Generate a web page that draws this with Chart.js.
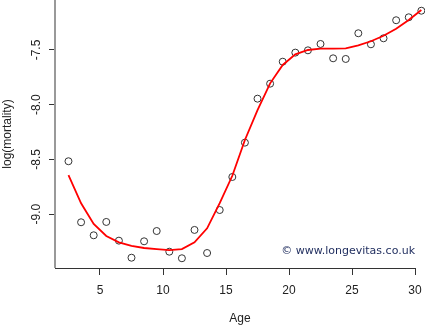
<!DOCTYPE html>
<html>
<head>
<meta charset="utf-8">
<script src="https://cdn.jsdelivr.net/npm/chart.js@4/dist/chart.umd.min.js"></script>
<style>
  html, body { margin: 0; padding: 0; background: #fff; }
  #wrap { width: 425px; height: 326px; }
</style>
</head>
<body>
<div id="wrap"><canvas id="chart" width="425" height="326"></canvas></div>
<script>
// Data
const ages = [2.5, 3.5, 4.5, 5.5, 6.5, 7.5, 8.5, 9.5, 10.5, 11.5, 12.5, 13.5, 14.5, 15.5,
  16.5, 17.5, 18.5, 19.5, 20.5, 21.5, 22.5, 23.5, 24.5, 25.5, 26.5, 27.5, 28.5, 29.5, 30.5];
const observed = [-8.517, -9.075, -9.194, -9.072, -9.243, -9.399, -9.249, -9.155, -9.344, -9.404,
  -9.145, -9.356, -8.963, -8.661, -8.347, -7.945, -7.808, -7.607, -7.524, -7.503, -7.445, -7.576,
  -7.582, -7.347, -7.448, -7.393, -7.228, -7.201, -7.141];
const fitted = [-8.643, -8.901, -9.09, -9.2, -9.258, -9.29, -9.31, -9.32, -9.33, -9.32,
  -9.258, -9.13, -8.9, -8.65, -8.323, -8.05, -7.805, -7.637, -7.54, -7.5, -7.488, -7.488,
  -7.485, -7.457, -7.42, -7.37, -7.305, -7.226, -7.134];
const xTicks = [5, 10, 15, 20, 25, 30];
const yTicks = [-9.0, -8.5, -8.0, -7.5];
const yTickLabels = ['-9.0', '-8.5', '-8.0', '-7.5'];

const ink = '#222';

// R-style axes: grey left box line, dark bottom line from left edge to last tick
const rAxes = {
  id: 'rAxes',
  afterDraw(chart) {
    const { ctx, chartArea, scales } = chart;
    const x = scales.x, y = scales.y;
    ctx.save();
    ctx.strokeStyle = '#999';
    ctx.lineWidth = 2;
    ctx.beginPath();
    ctx.moveTo(chartArea.left, chartArea.top);
    ctx.lineTo(chartArea.left, chartArea.bottom);
    ctx.stroke();

    ctx.strokeStyle = '#333';
    ctx.lineWidth = 1;
    ctx.beginPath();
    ctx.moveTo(chartArea.left, chartArea.bottom + 0.5);
    ctx.lineTo(x.getPixelForValue(30) + 0.5, chartArea.bottom + 0.5);
    ctx.stroke();

    // y tick labels, rotated like R
    ctx.fillStyle = ink;
    ctx.font = '12px "Liberation Sans", Arial, sans-serif';
    ctx.textAlign = 'center';
    ctx.textBaseline = 'middle';
    yTicks.forEach((v, i) => {
      ctx.save();
      ctx.translate(37, y.getPixelForValue(v));
      ctx.rotate(-Math.PI / 2);
      ctx.fillText(yTickLabels[i], 0, 0);
      ctx.restore();
    });

    // watermark
    ctx.fillStyle = '#1c2a5c';
    ctx.font = '11px "DejaVu Sans", sans-serif';
    ctx.textAlign = 'right';
    ctx.textBaseline = 'alphabetic';
    ctx.fillText('\u00a9 www.longevitas.co.uk', 415, 254);
    ctx.restore();
  }
};

new Chart(document.getElementById('chart').getContext('2d'), {
  type: 'scatter',
  data: {
    datasets: [
      {
        label: 'fitted',
        data: ages.map((a, i) => ({ x: a, y: fitted[i] })),
        showLine: true,
        borderColor: '#ff0000',
        borderWidth: 1.8,
        pointRadius: 0,
        fill: false,
        clip: false
      },
      {
        label: 'observed',
        data: ages.map((a, i) => ({ x: a, y: observed[i] })),
        showLine: false,
        pointStyle: 'circle',
        pointRadius: 3.5,
        borderColor: '#333',
        backgroundColor: 'transparent',
        borderWidth: 1,
        clip: false
      }
    ]
  },
  options: {
    responsive: false,
    animation: false,
    layout: { padding: 0, autoPadding: false },
    plugins: { legend: { display: false }, tooltip: { enabled: false } },
    scales: {
      x: {
        type: 'linear',
        min: 1.43,
        max: 30.79,
        afterBuildTicks: s => { s.ticks = xTicks.map(v => ({ value: v })); },
        afterFit: s => { s.height = 58; s.paddingLeft = 0; s.paddingRight = 0; },
        border: { display: false },
        grid: { drawOnChartArea: false, tickLength: 7, color: '#333', tickWidth: 1 },
        ticks: { color: ink, font: { family: '"Liberation Sans", Arial, sans-serif', size: 12 }, padding: 8, maxRotation: 0 },
        title: { display: true, text: 'Age', color: ink, font: { family: '"Liberation Sans", Arial, sans-serif', size: 12 }, padding: 0 }
      },
      y: {
        type: 'linear',
        min: -9.493,
        max: -7.043,
        afterBuildTicks: s => { s.ticks = yTicks.map(v => ({ value: v })); },
        afterFit: s => { s.width = 55; s.paddingTop = 0; s.paddingBottom = 0; },
        border: { display: false },
        grid: { drawOnChartArea: false, tickLength: 6, color: '#333', tickWidth: 1 },
        ticks: { display: false },
        title: { display: true, text: 'log(mortality)', color: ink, font: { family: '"Liberation Sans", Arial, sans-serif', size: 12 }, padding: 0 }
      }
    }
  },
  plugins: [rAxes]
});
</script>
</body>
</html>
